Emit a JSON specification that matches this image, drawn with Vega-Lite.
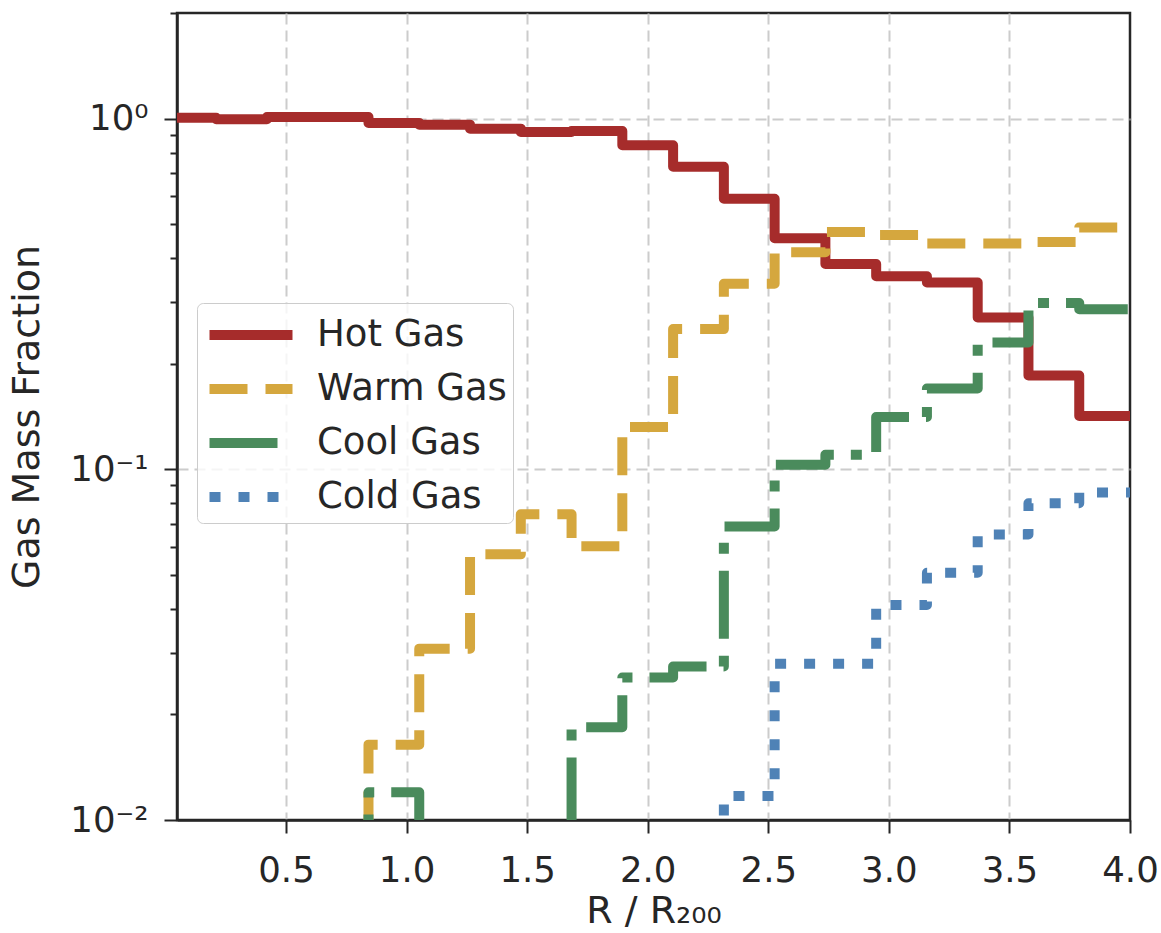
{
  "$schema": "https://vega.github.io/schema/vega-lite/v6.json",
  "width": 953,
  "height": 807,
  "autosize": {"type": "none"},
  "padding": {"left": 177, "top": 13, "right": 31, "bottom": 113},
  "background": "white",
  "config": {"font": "DejaVu Sans", "view": {"stroke": "#262626", "strokeWidth": 2.5}},
  "data": {"values": [
    {"phase": "Hot Gas", "r": 0.0, "f": 1.005},
    {"phase": "Hot Gas", "r": 0.2105, "f": 0.995},
    {"phase": "Hot Gas", "r": 0.4211, "f": 1.01},
    {"phase": "Hot Gas", "r": 0.6316, "f": 1.01},
    {"phase": "Hot Gas", "r": 0.8421, "f": 0.972},
    {"phase": "Hot Gas", "r": 1.0526, "f": 0.961},
    {"phase": "Hot Gas", "r": 1.2632, "f": 0.936},
    {"phase": "Hot Gas", "r": 1.4737, "f": 0.916},
    {"phase": "Hot Gas", "r": 1.6842, "f": 0.922},
    {"phase": "Hot Gas", "r": 1.8947, "f": 0.839},
    {"phase": "Hot Gas", "r": 2.1053, "f": 0.729},
    {"phase": "Hot Gas", "r": 2.3158, "f": 0.591},
    {"phase": "Hot Gas", "r": 2.5263, "f": 0.456},
    {"phase": "Hot Gas", "r": 2.7368, "f": 0.385},
    {"phase": "Hot Gas", "r": 2.9474, "f": 0.355},
    {"phase": "Hot Gas", "r": 3.1579, "f": 0.341},
    {"phase": "Hot Gas", "r": 3.3684, "f": 0.271},
    {"phase": "Hot Gas", "r": 3.5789, "f": 0.185},
    {"phase": "Hot Gas", "r": 3.7895, "f": 0.142},
    {"phase": "Hot Gas", "r": 4.0, "f": 0.142},
    {"phase": "Warm Gas", "r": 0.6316, "f": 0.001},
    {"phase": "Warm Gas", "r": 0.8421, "f": 0.0164},
    {"phase": "Warm Gas", "r": 1.0526, "f": 0.0308},
    {"phase": "Warm Gas", "r": 1.2632, "f": 0.0572},
    {"phase": "Warm Gas", "r": 1.4737, "f": 0.0744},
    {"phase": "Warm Gas", "r": 1.6842, "f": 0.0603},
    {"phase": "Warm Gas", "r": 1.8947, "f": 0.132},
    {"phase": "Warm Gas", "r": 2.1053, "f": 0.251},
    {"phase": "Warm Gas", "r": 2.3158, "f": 0.338},
    {"phase": "Warm Gas", "r": 2.5263, "f": 0.416},
    {"phase": "Warm Gas", "r": 2.7368, "f": 0.475},
    {"phase": "Warm Gas", "r": 2.9474, "f": 0.466},
    {"phase": "Warm Gas", "r": 3.1579, "f": 0.44},
    {"phase": "Warm Gas", "r": 3.3684, "f": 0.44},
    {"phase": "Warm Gas", "r": 3.5789, "f": 0.445},
    {"phase": "Warm Gas", "r": 3.7895, "f": 0.489},
    {"phase": "Warm Gas", "r": 4.0, "f": 0.489},
    {"phase": "Cool Gas", "r": 0.6316, "f": 0.001},
    {"phase": "Cool Gas", "r": 0.8421, "f": 0.012},
    {"phase": "Cool Gas", "r": 1.0526, "f": 0.001},
    {"phase": "Cool Gas", "r": 1.2632, "f": 0.001},
    {"phase": "Cool Gas", "r": 1.4737, "f": 0.001},
    {"phase": "Cool Gas", "r": 1.6842, "f": 0.0184},
    {"phase": "Cool Gas", "r": 1.8947, "f": 0.0255},
    {"phase": "Cool Gas", "r": 2.1053, "f": 0.0274},
    {"phase": "Cool Gas", "r": 2.3158, "f": 0.0687},
    {"phase": "Cool Gas", "r": 2.5263, "f": 0.103},
    {"phase": "Cool Gas", "r": 2.7368, "f": 0.11},
    {"phase": "Cool Gas", "r": 2.9474, "f": 0.141},
    {"phase": "Cool Gas", "r": 3.1579, "f": 0.17},
    {"phase": "Cool Gas", "r": 3.3684, "f": 0.23},
    {"phase": "Cool Gas", "r": 3.5789, "f": 0.298},
    {"phase": "Cool Gas", "r": 3.7895, "f": 0.286},
    {"phase": "Cool Gas", "r": 4.0, "f": 0.286},
    {"phase": "Cold Gas", "r": 2.1053, "f": 0.001},
    {"phase": "Cold Gas", "r": 2.3158, "f": 0.0117},
    {"phase": "Cold Gas", "r": 2.5263, "f": 0.0279},
    {"phase": "Cold Gas", "r": 2.7368, "f": 0.0279},
    {"phase": "Cold Gas", "r": 2.9474, "f": 0.041},
    {"phase": "Cold Gas", "r": 3.1579, "f": 0.0507},
    {"phase": "Cold Gas", "r": 3.3684, "f": 0.0652},
    {"phase": "Cold Gas", "r": 3.5789, "f": 0.08},
    {"phase": "Cold Gas", "r": 3.7895, "f": 0.0858},
    {"phase": "Cold Gas", "r": 4.0, "f": 0.0858}
  ]},
  "mark": {"type": "line", "interpolate": "step-after", "clip": true, "strokeWidth": 10, "strokeCap": "butt", "strokeJoin": "round"},
  "encoding": {
    "x": {
      "field": "r", "type": "quantitative",
      "scale": {"domain": [0.048, 4.0], "nice": false, "zero": false},
      "axis": {
        "title": "R / R₂₀₀", "values": [0.5, 1.0, 1.5, 2.0, 2.5, 3.0, 3.5, 4.0], "format": ".1f",
        "tickSize": 13, "tickWidth": 2, "tickColor": "#262626",
        "domainColor": "#262626", "domainWidth": 2.5,
        "labelFontSize": 35.5, "labelColor": "#262626", "labelPadding": 20, "labelFlush": false, "labelOverlap": false,
        "titleFontSize": 38, "titleFontWeight": "normal", "titleColor": "#262626", "titlePadding": 4,
        "grid": true, "gridColor": "#cccccc", "gridDash": [11, 6], "gridWidth": 2,
        "gridOpacity": {"condition": {"test": "datum.value > 3.99", "value": 0}, "value": 1}
      }
    },
    "y": {
      "field": "f", "type": "quantitative",
      "scale": {"type": "log", "domain": [0.01, 2.0], "nice": false},
      "axis": {
        "title": "Gas Mass Fraction",
        "values": [0.01, 0.02, 0.03, 0.04, 0.05, 0.06, 0.07, 0.08, 0.09, 0.1, 0.2, 0.3, 0.4, 0.5, 0.6, 0.7, 0.8, 0.9, 1, 2],
        "labelExpr": "datum.value == 1 ? '10⁰' : (datum.value == 0.1 ? '10⁻¹' : (datum.value == 0.01 ? '10⁻²' : ''))",
        "tickSize": {"condition": {"test": "abs(log(datum.value)/LN10 - round(log(datum.value)/LN10)) < 0.001", "value": 13}, "value": 7},
        "tickWidth": 2, "tickColor": "#262626",
        "domainColor": "#262626", "domainWidth": 2.5,
        "labelFontSize": 35.5, "labelColor": "#262626", "labelPadding": 16, "labelOverlap": false, "labelFlush": false, "labelBound": false,
        "titleFontSize": 38, "titleFontWeight": "normal", "titleColor": "#262626", "titlePadding": 23,
        "grid": true, "gridColor": "#cccccc", "gridDash": [11, 6], "gridWidth": 2,
        "gridOpacity": {"condition": {"test": "datum.value > 0.011 && abs(log(datum.value)/LN10 - round(log(datum.value)/LN10)) < 0.001", "value": 1}, "value": 0}
      }
    },
    "color": {
      "field": "phase", "type": "nominal",
      "scale": {"domain": ["Hot Gas", "Warm Gas", "Cool Gas", "Cold Gas"], "range": ["#a62c2b", "#d5a73e", "#4a8b5c", "#4f82b6"]},
      "legend": {
        "title": null, "orient": "none", "legendX": 20, "legendY": 290,
        "symbolType": "M-2,0H2", "symbolSize": 1722, "symbolStrokeWidth": 10, "symbolOffset": 22,
        "labelFontSize": 37, "labelColor": "#262626", "labelOffset": 40, "labelLimit": 0,
        "rowPadding": 8,
        "fillColor": "rgba(255,255,255,0.8)", "strokeColor": "#cccccc", "cornerRadius": 6, "padding": 6
      }
    },
    "strokeDash": {
      "field": "phase", "type": "nominal",
      "scale": {"domain": ["Hot Gas", "Warm Gas", "Cool Gas", "Cold Gas"], "range": [[1, 0], [38, 18], [68, 17, 11, 17], [11, 18]]},
      "legend": {
        "title": null, "orient": "none", "legendX": 20, "legendY": 290,
        "symbolType": "M-2,0H2", "symbolSize": 1722, "symbolStrokeWidth": 10, "symbolOffset": 22,
        "labelFontSize": 37, "labelColor": "#262626", "labelOffset": 40, "labelLimit": 0,
        "rowPadding": 8,
        "fillColor": "rgba(255,255,255,0.8)", "strokeColor": "#cccccc", "cornerRadius": 6, "padding": 6
      }
    }
  }
}
